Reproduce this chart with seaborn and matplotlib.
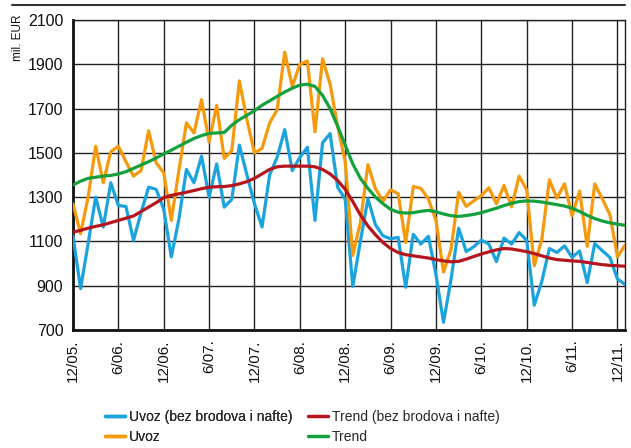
import matplotlib
matplotlib.use("Agg")
import matplotlib.pyplot as plt
import matplotlib.lines as mlines
import seaborn as sns
import pandas as pd
import numpy as np

# ---- data (monthly, 12/2005 .. 01/2012), mil. EUR ----
tick_labels = ["12/05.", "6/06.", "12/06.", "6/07.", "12/07.", "6/08.", "12/08.",
               "6/09.", "12/09.", "6/10.", "12/10.", "6/11.", "12/11."]

uvoz_bez = [1125, 887, 1090, 1300, 1165, 1365, 1262, 1258, 1105, 1230,
            1345, 1335, 1245, 1030, 1200, 1425, 1365, 1485, 1300, 1450,
            1255, 1290, 1535, 1400, 1270, 1165, 1400, 1480, 1605, 1420,
            1480, 1525, 1195, 1545, 1587, 1345, 1290, 897, 1100, 1293,
            1175, 1125, 1112, 1118, 893, 1132, 1088, 1123, 950, 735,
            930, 1160, 1054, 1076, 1106, 1088, 1009, 1115, 1088, 1140,
            1105, 812, 920, 1068, 1050, 1080, 1028, 1057, 914, 1090,
            1058, 1028, 930, 906]

uvoz = [1270, 1135, 1300, 1530, 1365, 1505, 1530, 1460, 1395, 1420,
        1600, 1455, 1410, 1195, 1420, 1635, 1590, 1740, 1550, 1715,
        1475, 1510, 1825, 1650, 1500, 1520, 1635, 1695, 1955, 1800,
        1900, 1915, 1595, 1925, 1810, 1620, 1460, 1037, 1185, 1447,
        1338, 1282, 1333, 1315, 1095, 1348, 1340, 1292, 1195, 962,
        1065, 1322, 1258, 1283, 1307, 1342, 1270, 1353, 1256, 1395,
        1333, 990, 1110, 1378, 1295, 1360, 1215, 1327, 1078, 1360,
        1292, 1222, 1031, 1082]

trend_bez = [1142, 1150, 1160, 1168, 1175, 1185, 1195, 1205, 1215, 1235,
             1255, 1275, 1298, 1308, 1315, 1322, 1330, 1338, 1345, 1347,
             1348, 1352, 1360, 1370, 1385, 1405, 1425, 1437, 1440, 1440,
             1440, 1440, 1437, 1425, 1405, 1375, 1335, 1280, 1220, 1170,
             1130, 1095, 1068, 1050, 1040, 1035, 1030, 1025, 1018, 1012,
             1008, 1010, 1020, 1032, 1043, 1053, 1062, 1068, 1066, 1060,
             1054, 1045, 1035, 1025, 1018, 1015, 1012, 1010, 1005, 1000,
             995, 992, 990, 988]

trend = [1355, 1372, 1385, 1390, 1395, 1398, 1405, 1415, 1430, 1445,
         1460, 1477, 1495, 1512, 1530, 1548, 1565, 1578, 1588, 1590,
         1592, 1625, 1650, 1670, 1690, 1715, 1735, 1755, 1775, 1792,
         1806, 1810, 1800, 1760, 1700, 1620, 1535, 1450, 1385, 1340,
         1300, 1270, 1245, 1232, 1228, 1230, 1236, 1240, 1234, 1224,
         1216, 1213, 1217, 1222, 1230, 1240, 1250, 1262, 1272, 1280,
         1283, 1282, 1278, 1272, 1266, 1260, 1250, 1235, 1218, 1203,
         1192, 1184, 1178, 1173]

names = ["Uvoz (bez brodova i nafte)", "Uvoz", "Trend (bez brodova i nafte)", "Trend"]
colors = ["#1aa3dd", "#f49a0c", "#b5161d", "#14a03c"]

months = np.arange(len(uvoz))
df = pd.concat([
    pd.DataFrame({"m": months, "v": uvoz_bez, "s": names[0]}),
    pd.DataFrame({"m": months, "v": uvoz, "s": names[1]}),
    pd.DataFrame({"m": months, "v": trend_bez, "s": names[2]}),
    pd.DataFrame({"m": months, "v": trend, "s": names[3]}),
])

sns.set_theme(style="white")
plt.rcParams["font.family"] = ["Liberation Sans", "DejaVu Sans"]

fig = plt.figure(figsize=(6.31, 4.48), dpi=100)
ax = fig.add_axes([73/631, 1-330/448, (625-73)/631, (330-20)/448])

z = {names[0]: 3, names[1]: 4, names[2]: 5, names[3]: 6}
for n in names:
    sub = df[df["s"] == n]
    sns.lineplot(data=sub, x="m", y="v", ax=ax, color=colors[names.index(n)],
                 linewidth=2.3, zorder=z[n], legend=False)

ax.set_xlim(0, 73)
ax.set_ylim(700, 2100)
ax.set_xticks(np.arange(0, 73, 6))
ax.set_xticklabels(tick_labels, rotation=90, fontsize=11, color="#111111")
ax.set_yticks(np.arange(700, 2101, 200))
ax.set_yticklabels([str(v) for v in range(700, 2101, 200)], fontsize=11.5, color="#111111")
ax.tick_params(axis="both", length=0, pad=7)
ax.set_xlabel("")
ax.set_ylabel("")
ax.grid(True, color="#222222", linewidth=1.0)
ax.set_axisbelow(True)
for side in ["top", "right"]:
    ax.spines[side].set_color("#222222")
    ax.spines[side].set_linewidth(1.0)
for side in ["left", "bottom"]:
    ax.spines[side].set_color("#111111")
    ax.spines[side].set_linewidth(2.0)

fig.text(18/631, 1-38/448, "mil. EUR", rotation=90, ha="center", va="center",
         fontsize=8.5, color="#111111")

# top rule
fig.add_artist(mlines.Line2D([12/631, 625/631], [1-5/448, 1-5/448],
                             color="#333333", linewidth=1.5))

handles = [mlines.Line2D([], [], color=c, linewidth=2.5) for c in colors]
leg_kw = dict(frameon=False, fontsize=10, handlelength=1.45, handletextpad=0.25,
              labelspacing=0.42, borderpad=0, borderaxespad=0, loc="center left")
leg1 = fig.legend(handles[:2], names[:2], bbox_to_anchor=(105/631, 1-427/448), **leg_kw)
fig.add_artist(leg1)
leg2 = fig.legend(handles[2:], names[2:], bbox_to_anchor=(308/631, 1-427/448), **leg_kw)

fig.savefig("out.png", dpi=100)
